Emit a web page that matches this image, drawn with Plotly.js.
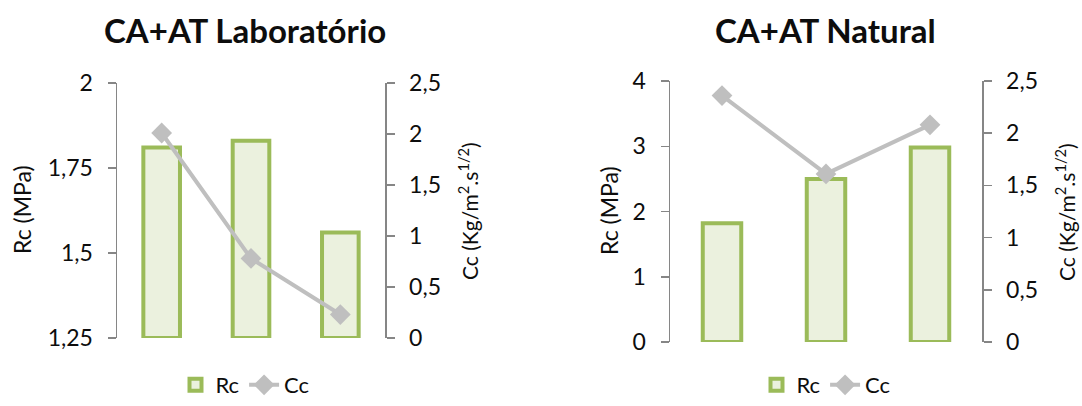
<!DOCTYPE html>
<html>
<head>
<meta charset="utf-8">
<script src="https://cdn.plot.ly/plotly-3.0.1.min.js"></script>
<style>html,body{margin:0;padding:0;background:#fff;}#chart{width:1082px;height:406px;}</style>
</head>
<body>
<div id="chart"></div>
<script>
// ---- data ----
const categories = ['1', '2', '3'];
const rcLab = [1.81, 1.83, 1.56];
const ccLab = [2.01, 0.78, 0.23];
const rcNat = [1.82, 2.50, 2.98];
const ccNat = [2.36, 1.61, 2.08];

const rcLabTicks = [1.25, 1.5, 1.75, 2];
const rcLabTickText = ['1,25', '1,5', '1,75', '2'];
const rcNatTicks = [0, 1, 2, 3, 4];
const rcNatTickText = ['0', '1', '2', '3', '4'];
const ccTicks = [0, 0.5, 1, 1.5, 2, 2.5];
const ccTickText = ['0', '0,5', '1', '1,5', '2', '2,5'];

const titleLab = 'CA+AT Laboratório';
const titleNat = 'CA+AT Natural';
const rcTitle = 'Rc (MPa)';
const ccTitle = 'Cc (Kg/m<sup>2</sup>.s<sup>1/2</sup>)';

// ---- styles ----
const W = 1082, H = 406;
const FONT = 'Lato, "Open Sans", sans-serif';
const TXT = '#0d0d0d';
const AX = '#868686';
const GREEN = '#9BBB59';
const FILL = '#EBF1DE';
const GREY = '#BFBFBF';
const RC_LAB_MIN = 1.25;

const px = v => v / W;
const py = v => (H - v) / H;

function yAx(extra) {
  return Object.assign({
    showline: true, linecolor: AX, linewidth: 1.5,
    ticks: 'outside', ticklen: 8, tickcolor: AX, tickwidth: 1.5,
    showgrid: false, zeroline: false, fixedrange: true, automargin: false,
    tickfont: {family: FONT, size: 23, color: TXT},
    ticklabelstandoff: 10
  }, extra);
}
function xAx(extra) {
  return Object.assign({
    type: 'category', showticklabels: false, showline: false, ticks: '',
    showgrid: false, zeroline: false, range: [-0.5, 2.5], fixedrange: true, automargin: false
  }, extra);
}

const barStyle = w => ({
  type: 'bar', width: w,
  marker: {color: FILL, line: {color: GREEN, width: 4}}
});
const lineStyle = {
  type: 'scatter', mode: 'lines+markers',
  line: {color: GREY, width: 4},
  marker: {symbol: 'diamond', size: 16, color: GREY}
};

const traces = [
  Object.assign(barStyle(0.41), {
    name: 'Rc', x: categories, base: RC_LAB_MIN,
    y: rcLab.map(v => v - RC_LAB_MIN), customdata: rcLab,
    hovertemplate: '%{customdata}<extra>Rc</extra>',
    xaxis: 'x', yaxis: 'y', legend: 'legend'
  }),
  Object.assign({}, lineStyle, {
    name: 'Cc', x: categories, y: ccLab, xaxis: 'x', yaxis: 'y2', legend: 'legend'
  }),
  Object.assign(barStyle(0.37), {
    name: 'Rc', x: categories, y: rcNat, xaxis: 'x2', yaxis: 'y3', legend: 'legend2'
  }),
  Object.assign({}, lineStyle, {
    name: 'Cc', x: categories, y: ccNat, xaxis: 'x2', yaxis: 'y4', legend: 'legend2'
  })
];

const legendBase = {
  orientation: 'h', xanchor: 'center', yanchor: 'bottom', y: 0,
  font: {family: FONT, size: 22, color: TXT}, bgcolor: 'rgba(0,0,0,0)',
  itemwidth: 30
};

const annFont = (size, bold) => ({family: FONT, size: size, color: TXT, weight: bold ? 'bold' : 'normal'});
const ann = (text, x, y, size, bold, angle) => ({
  text: text, x: px(x), y: py(y), xref: 'paper', yref: 'paper', showarrow: false,
  xanchor: 'center', yanchor: 'middle', textangle: angle || 0, font: annFont(size, bold)
});

const layout = {
  width: W, height: H,
  margin: {l: 0, r: 0, t: 0, b: 0, pad: 0},
  paper_bgcolor: '#fff', plot_bgcolor: 'rgba(0,0,0,0)',
  font: {family: FONT, color: TXT},
  separators: ',.',
  showlegend: true,
  xaxis: xAx({domain: [px(117), px(385)], anchor: 'y'}),
  yaxis: yAx({domain: [py(338), py(83)], range: [1.25, 2], tickvals: rcLabTicks, ticktext: rcLabTickText, anchor: 'x', side: 'left'}),
  yaxis2: yAx({overlaying: 'y', side: 'right', anchor: 'x', range: [0, 2.5], tickvals: ccTicks, ticktext: ccTickText}),
  xaxis2: xAx({domain: [px(670), px(982)], anchor: 'y3'}),
  yaxis3: yAx({domain: [py(342), py(81)], range: [0, 4], tickvals: rcNatTicks, ticktext: rcNatTickText, anchor: 'x2', side: 'left'}),
  yaxis4: yAx({overlaying: 'y3', side: 'right', anchor: 'x2', range: [0, 2.5], tickvals: ccTicks, ticktext: ccTickText}),
  legend: Object.assign({}, legendBase, {x: px(245)}),
  legend2: Object.assign({}, legendBase, {x: px(826)}),
  annotations: [
    ann(titleLab, 245, 30, 33, true),
    ann(titleNat, 825, 30, 33, true),
    ann(rcTitle, 22, 210, 23, false, -90),
    ann(ccTitle, 468, 211, 21, false, -90),
    ann(rcTitle, 609, 211, 23, false, -90),
    ann(ccTitle, 1065, 212, 21, false, -90)
  ]
};

Plotly.newPlot('chart', traces, layout, {displayModeBar: false, staticPlot: true});
</script>
</body>
</html>
